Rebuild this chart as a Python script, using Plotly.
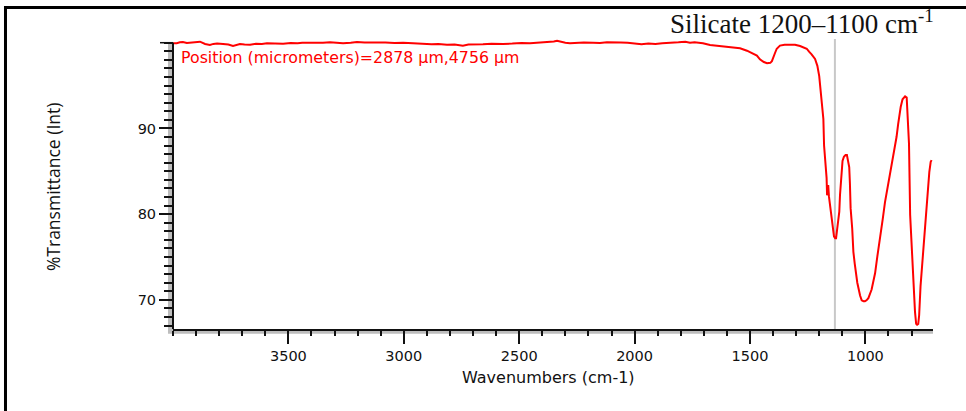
import plotly.graph_objects as go

wavenumbers = [
    4000, 3984, 3970, 3957, 3940, 3926, 3905, 3883, 3861, 3840, 3825, 3809, 3783, 3760, 3740,
    3725, 3710, 3690, 3666, 3640, 3615, 3593, 3560, 3523, 3490, 3460, 3440, 3400, 3380, 3350,
    3320, 3290, 3263, 3230, 3203, 3170, 3140, 3116, 3080, 3040, 3003, 2960, 2917, 2880, 2850,
    2813, 2780, 2744, 2720, 2690, 2657, 2620, 2590, 2570, 2530, 2490, 2453, 2420, 2380, 2350,
    2336, 2320, 2300, 2280, 2250, 2220, 2180, 2150, 2120, 2090, 2060, 2030, 2000, 1970, 1940,
    1910, 1880, 1850, 1810, 1780, 1760, 1740, 1704, 1673, 1640, 1600, 1570, 1543, 1513, 1487,
    1470, 1457, 1440, 1426, 1412, 1405, 1399, 1392, 1384, 1370, 1350, 1327, 1305, 1283, 1265,
    1254, 1244, 1233, 1218, 1208, 1200, 1194, 1188, 1182, 1179, 1174, 1170, 1168, 1166, 1164,
    1161, 1158, 1150, 1142, 1136, 1131, 1127, 1122, 1113, 1110, 1103, 1099, 1093, 1086, 1080,
    1075, 1070, 1067, 1064, 1057, 1052, 1046, 1041, 1035, 1023, 1016, 1008, 1002, 995, 987, 973,
    958, 948, 937, 925, 915, 905, 893, 882, 872, 865, 858, 852, 847, 839, 832,
    828, 821, 817, 811, 806, 795, 789, 785, 780, 776, 771, 767, 761, 752, 742,
    732, 723, 717, 713,
]

transmittance = [
    99.95, 99.94, 100.05, 100.09, 99.98, 100.0, 100.06, 100.12, 99.85, 99.74, 99.86, 99.91, 99.85, 99.80, 99.62,
    99.78, 99.85, 99.80, 99.77, 99.88, 99.86, 99.94, 99.90, 99.89, 99.96, 99.93, 100.0, 99.97, 100.03, 100.0,
    100.05, 100.02, 99.94, 100.0, 100.09, 100.02, 100.05, 100.0, 100.03, 99.97, 100.0, 99.93, 99.85, 99.82, 99.86,
    99.77, 99.80, 99.66, 99.78, 99.84, 99.82, 99.88, 99.83, 99.85, 99.90, 99.98, 99.94, 100.0, 100.05, 100.15,
    100.24, 100.10, 100.0, 99.94, 100.0, 100.02, 100.0, 99.98, 100.05, 100.07, 100.03, 100.0, 99.95, 99.82, 99.90,
    99.85, 99.95, 99.97, 100.05, 100.12, 100.0, 100.05, 99.94, 99.74, 99.62, 99.47, 99.42, 99.35, 99.07, 98.77,
    98.5, 98.07, 97.75, 97.60, 97.65, 97.85, 98.19, 98.77, 99.3, 99.66, 99.77, 99.80, 99.77, 99.62, 99.47,
    99.3, 98.95, 98.65, 98.1, 97.3, 96.1, 94.6, 92.85, 91.1, 88.0, 86.5, 85.6, 84.2, 82.2, 83.3,
    83.4, 82.1, 80.25, 78.7, 77.4, 77.2, 77.2, 78.3, 80.3, 82.2, 84.2, 86.2, 86.7, 86.9, 86.9,
    86.3, 85.5, 83.6, 80.7, 78.3, 75.6, 74.2, 73.2, 72.0, 70.5, 69.95, 69.85, 69.85, 69.95, 70.2, 71.2,
    73.1, 75.1, 77.0, 79.4, 81.4, 82.9, 84.9, 86.1, 87.8, 89.0, 90.5, 91.8, 92.5, 93.4, 93.7,
    93.75, 93.6, 91.4, 88.2, 79.9, 73.1, 71.2, 68.6, 67.2, 67.1, 67.2, 68.2, 71.6, 74.7, 78.2,
    82.1, 84.9, 86.1, 86.3,
]

x_major_ticks = [1000, 1500, 2000, 2500, 3000, 3500]
y_major_ticks = [70, 80, 90]
y_top_tick = 100
marker_wavenumber = 1132

title_text = "Silicate 1200–1100 cm<sup>-1</sup>"
legend_text = "Position (micrometers)=2878 µm,4756 µm"
x_title = "Wavenumbers (cm-1)"
y_title = "%Transmittance (Int)"

X_RANGE = [4000, 707]
Y_RANGE = [66.6, 100.55]

fig = go.Figure()
fig.add_trace(go.Scatter(
    x=wavenumbers, y=transmittance, mode="lines",
    line=dict(color="#ff0000", width=2), showlegend=False, hoverinfo="skip",
))

tickfont = dict(family="DejaVu Sans", size=14.5, color="#111111")

fig.update_layout(
    width=966, height=411, autosize=False,
    margin=dict(l=173, r=33, t=38, b=82, pad=0),
    paper_bgcolor="white", plot_bgcolor="white",
    xaxis=dict(
        range=X_RANGE, showgrid=False, zeroline=False,
        showline=True, linecolor="#111111", linewidth=2,
        ticks="outside", tickvals=x_major_ticks, ticklen=13, tickwidth=1.5,
        tickcolor="#111111", tickfont=tickfont,
        minor=dict(dtick=100, ticks="outside", ticklen=5, tickwidth=1.5, tickcolor="#111111", showgrid=False),
    ),
    yaxis=dict(
        range=Y_RANGE, showgrid=False, zeroline=False, showline=False,
        ticks="outside", tickvals=y_major_ticks,
        ticklen=13, tickwidth=1.5, tickcolor="#111111", tickfont=tickfont,
        minor=dict(dtick=1, ticks="outside", ticklen=8, tickwidth=1.5, tickcolor="#111111", showgrid=False),
    ),
    shapes=[
        # gray bands
        dict(type="rect", xref="paper", yref="y", x0=-0.0066, x1=0, y0=Y_RANGE[0], y1=y_top_tick,
             fillcolor="#bdbdbd", line=dict(width=0), layer="below"),
        dict(type="rect", xref="paper", yref="paper", x0=-0.0066, x1=1, y0=-0.0165, y1=0,
             fillcolor="#bdbdbd", line=dict(width=0), layer="below"),
        # y axis line and top long tick
        dict(type="line", xref="paper", yref="y", x0=0, x1=0, y0=Y_RANGE[0], y1=y_top_tick,
             line=dict(color="#111111", width=2)),
        dict(type="line", xref="paper", yref="y", x0=-0.0171, x1=0, y0=y_top_tick, y1=y_top_tick,
             line=dict(color="#111111", width=1.5)),
        # marker line
        dict(type="line", xref="x", yref="paper", x0=marker_wavenumber, x1=marker_wavenumber,
             y0=0, y1=0.9966, line=dict(color="#c8c8c8", width=2), layer="below"),
        # outer frame
        dict(type="line", xref="paper", yref="paper", x0=-0.2204, x1=1.06, y0=1.1048, y1=1.1048,
             line=dict(color="black", width=3)),
        dict(type="line", xref="paper", yref="paper", x0=-0.2204, x1=-0.2204, y0=1.11, y1=-0.3,
             line=dict(color="black", width=3)),
    ],
    annotations=[
        dict(text=legend_text, xref="paper", yref="paper", x=0.0079, y=0.9347,
             xanchor="left", yanchor="middle", showarrow=False,
             font=dict(family="DejaVu Sans", size=15.8, color="#ff0000")),
        dict(text=title_text, xref="paper", yref="paper", x=1.004, y=1.056,
             xanchor="right", yanchor="middle", showarrow=False,
             font=dict(family="Liberation Serif", size=27, color="#111111")),
        dict(text=x_title, xref="paper", yref="paper", x=0.494, y=-0.165,
             xanchor="center", yanchor="middle", showarrow=False,
             font=dict(family="DejaVu Sans", size=16, color="#111111")),
        dict(text=y_title, xref="paper", yref="paper", x=-0.1579, y=0.491,
             xanchor="center", yanchor="middle", showarrow=False, textangle=-90,
             font=dict(family="Open Sans", size=17.5, color="#111111")),
    ],
)

fig.write_html("out.html")
